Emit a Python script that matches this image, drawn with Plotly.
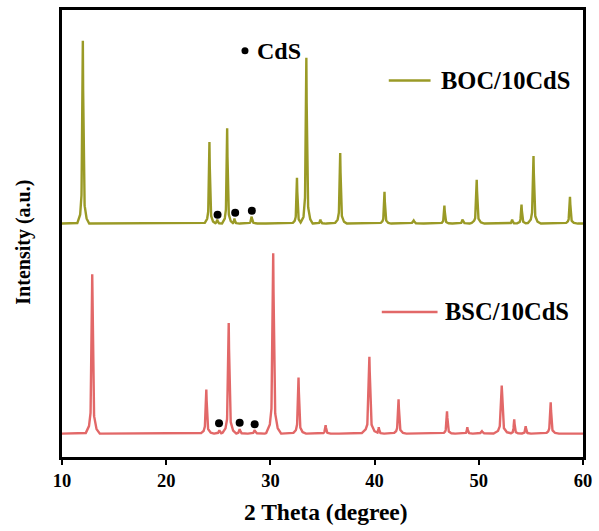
import numpy as np
import plotly.graph_objects as go

# ---- data (intensity in arbitrary units) ----
boc_baseline = 235
boc_peak_pos = [12.0, 24.15, 24.9, 25.85, 26.55, 28.2, 32.55, 33.45, 34.8, 36.7, 40.95,
                43.75, 46.7, 48.45, 49.8, 53.2, 54.1, 55.25, 58.75]
boc_peak_top = [419, 317, 239, 331, 240, 242, 281, 402, 239, 306, 267,
                238, 253, 239, 279, 239, 254, 303, 262]
boc_peak_wid = [0.55, 0.5, 0.5, 0.5, 0.45, 0.6, 0.5, 0.55, 0.5, 0.55, 0.5,
                0.8, 0.5, 0.6, 0.6, 0.5, 0.5, 0.6, 0.55]

bsc_baseline = 23.5
bsc_peak_pos = [12.9, 23.85, 25.1, 26.0, 27.05, 28.5, 30.27, 32.7, 35.3, 39.5, 40.4,
                42.3, 46.95, 48.9, 50.3, 52.2, 53.4, 54.5, 56.9]
bsc_peak_top = [184, 68, 27, 135, 28, 27, 205, 80, 32, 101, 30,
                58, 46, 30, 26, 72, 38, 31, 55]
bsc_peak_wid = [0.65, 0.6, 0.6, 0.65, 0.6, 0.7, 0.7, 0.6, 0.55, 0.8, 0.5,
                0.6, 0.55, 0.5, 0.8, 0.8, 0.5, 0.5, 0.6]

boc_cds_x = [24.93, 26.62, 28.22]
boc_cds_y = [244, 246, 248]
bsc_cds_x = [25.07, 27.05, 28.49]
bsc_cds_y = [34, 34.5, 33]

x_ticks = [10, 20, 30, 40, 50, 60]

# ---- style ----
OLIVE = "#9a9a26"
RED = "#e26868"
FONT = "Liberation Serif"
profile_dx = [-1.0, -0.5, -0.25, -0.1, 0.0, 0.1, 0.25, 0.5, 1.0]
profile_fr = [0.0, 0.04, 0.12, 0.5, 1.0, 0.5, 0.12, 0.04, 0.0]


def build(baseline, pos, top, wid):
    xs = np.linspace(10, 60, 5001)
    ys = np.full_like(xs, float(baseline))
    for p, t, w in zip(pos, top, wid):
        px = [p + d * w for d in profile_dx]
        py = [f * (t - baseline) for f in profile_fr]
        ys += np.interp(xs, px, py, left=0, right=0)
    return xs, ys


fig = go.Figure()
for name, color, args in [
    ("BOC/10CdS", OLIVE, (boc_baseline, boc_peak_pos, boc_peak_top, boc_peak_wid)),
    ("BSC/10CdS", RED, (bsc_baseline, bsc_peak_pos, bsc_peak_top, bsc_peak_wid)),
]:
    xs, ys = build(*args)
    fig.add_trace(go.Scatter(x=xs, y=ys, mode="lines", name=name,
                             line=dict(color=color, width=2.4), showlegend=False))

fig.add_trace(go.Scatter(x=boc_cds_x + bsc_cds_x, y=boc_cds_y + bsc_cds_y, mode="markers",
                         marker=dict(color="black", size=8), showlegend=False))

# CdS key
fig.add_trace(go.Scatter(x=[27.56], y=[409], mode="markers",
                         marker=dict(color="black", size=7), showlegend=False))
fig.add_annotation(x=28.55, y=409, text="CdS", showarrow=False, xanchor="left",
                   yanchor="middle", font=dict(family=FONT, size=24, color="black", weight="bold"))

# legend entries
for (x0, x1, xt, yy, label, color) in [
    (41.36, 45.37, 46.2, 379, "BOC/10CdS", OLIVE),
    (40.69, 46.04, 46.6, 146, "BSC/10CdS", RED),
]:
    fig.add_shape(type="line", x0=x0, x1=x1, y0=yy, y1=yy, xref="x", yref="y",
                  line=dict(color=color, width=2.4))
    fig.add_annotation(x=xt, y=yy, text=label, showarrow=False, xanchor="left",
                       yanchor="middle",
                       font=dict(family=FONT, size=24.5, color="black", weight="bold"))

# axis titles
fig.add_annotation(x=0.506, y=-0.122, xref="paper", yref="paper", text="2 Theta (degree)",
                   showarrow=False, xanchor="center", yanchor="middle",
                   font=dict(family=FONT, size=23.5, color="black", weight="bold"))
fig.add_annotation(x=-0.0744, y=0.48, xref="paper", yref="paper", text="Intensity (a.u.)",
                   showarrow=False, xanchor="center", yanchor="middle", textangle=-90,
                   font=dict(family=FONT, size=20, color="black", weight="bold"))

fig.update_layout(
    width=599, height=531,
    margin=dict(l=62, r=13, t=7, b=74),
    paper_bgcolor="white", plot_bgcolor="white",
    xaxis=dict(range=[10, 60], tickvals=x_ticks, ticks="outside", ticklen=5, tickwidth=2,
               tickcolor="black", showline=True, linewidth=3, linecolor="black", mirror=True,
               showgrid=False, zeroline=False,
               tickfont=dict(family=FONT, size=18.5, color="black", weight="bold")),
    yaxis=dict(range=[0, 450], showticklabels=False, ticks="", showline=True, linewidth=3,
               linecolor="black", mirror=True, showgrid=False, zeroline=False),
)

fig.write_html("out.html", config={"displayModeBar": False},
               post_script="document.body.style.margin='0px';")
